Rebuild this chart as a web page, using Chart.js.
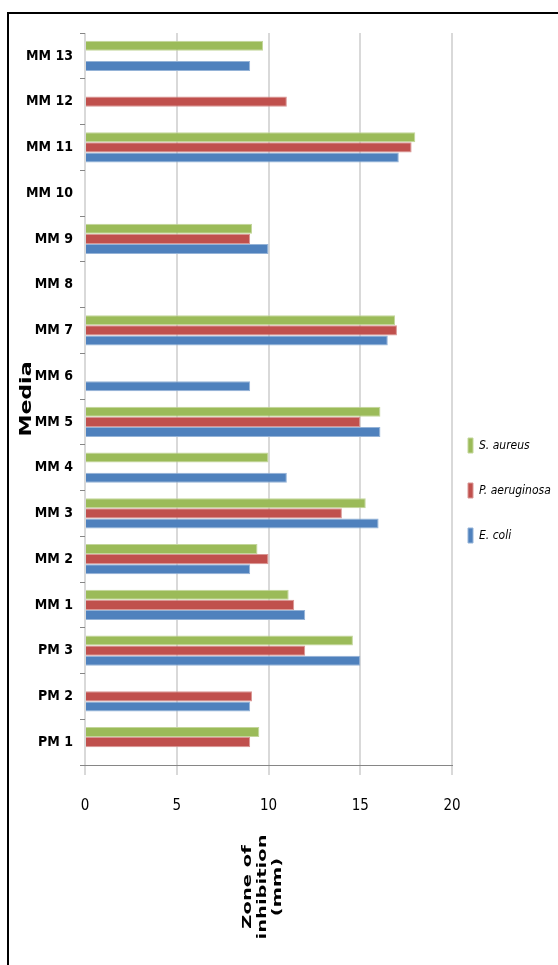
<!DOCTYPE html>
<html><head><meta charset="utf-8">
<script src="https://cdn.jsdelivr.net/npm/chart.js@4.4.0/dist/chart.umd.min.js"></script>
<style>
html,body{margin:0;padding:0;background:#fff;}
#wrap{position:relative;width:558px;height:965px;overflow:hidden;}
#frame{position:absolute;left:7px;top:12px;right:-4px;bottom:-4px;border-top:2px solid #000;border-left:2px solid #000;pointer-events:none;}
canvas{position:absolute;left:0;top:0;}
</style></head><body>
<div id="wrap"><canvas id="c" width="558" height="965"></canvas><div id="frame"></div></div>
<script>
// Categories listed top to bottom as in the picture
const categories = ['MM 13','MM 12','MM 11','MM 10','MM 9','MM 8','MM 7','MM 6','MM 5','MM 4','MM 3','MM 2','MM 1','PM 3','PM 2','PM 1'];
const seriesNames = ['S. aureus','P. aeruginosa','E. coli'];
const sAureus     = [9.7, null, 18.0, null, 9.1, null, 16.9, null, 16.1, 10.0, 15.3, 9.4, 11.1, 14.6, null, 9.5];
const pAeruginosa = [null, 11.0, 17.8, null, 9.0, null, 17.0, null, 15.0, null, 14.0, 10.0, 11.4, 12.0, 9.1, 9.0];
const eColi       = [9.0, null, 17.1, null, 10.0, null, 16.5, 9.0, 16.1, 11.0, 16.0, 9.0, 12.0, 15.0, 9.0, null];
const xTicks = [0, 5, 10, 15, 20];
const yTitle = 'Media';
const xTitleLines = ['Zone of', 'inhibition', '(mm)'];

const fillColors = ['#9BBB59', '#C0504D', '#4F81BD'];
const edgeColors = ['#c3d69b', '#d99694', '#95b3d7'];
const narrow = "'DejaVu Sans Condensed', 'Liberation Sans Narrow', sans-serif";

const seriesValues = [sAureus, pAeruginosa, eColi];

const titlePlugin = {
  id: 'rotTitles',
  afterDraw(chart) {
    const {ctx, chartArea} = chart;
    ctx.save();
    ctx.fillStyle = '#000';
    ctx.textAlign = 'center';
    ctx.textBaseline = 'middle';
    ctx.font = "bold 15px 'DejaVu Sans', sans-serif";
    ctx.translate(27.5, (chartArea.top + chartArea.bottom) / 2);
    ctx.rotate(-Math.PI / 2);
    ctx.scale(1.47, 1);
    ctx.fillText(yTitle, 0, 0);
    ctx.restore();

    ctx.save();
    ctx.fillStyle = '#000';
    ctx.textAlign = 'center';
    ctx.textBaseline = 'middle';
    ctx.font = "bold 13px 'DejaVu Sans', sans-serif";
    const cx = (chartArea.left + chartArea.right) / 2 - 6;
    ctx.translate(cx, chartArea.bottom + 122);
    ctx.rotate(-Math.PI / 2);
    ctx.scale(1.5, 1);
    xTitleLines.forEach((t, i) => ctx.fillText(t, 0, (i - 1) * 15));
    ctx.restore();
  }
};

const legendShift = {
  id: 'legendShift',
  afterLayout(chart) {
    const lg = chart.legend;
    if (!lg) return;
    lg.left = chart.chartArea.right - 14;
    lg.right = chart.width;
    const shift = 490.5 - (lg.top + lg.bottom) / 2;
    lg.top += shift; lg.bottom += shift;
  }
};

new Chart(document.getElementById('c'), {
  type: 'bar',
  data: {
    labels: categories,
    datasets: seriesNames.map((name, i) => ({
      label: name,
      data: seriesValues[i],
      backgroundColor: fillColors[i],
      borderColor: edgeColors[i],
      borderWidth: 1,
      categoryPercentage: 0.656,
      barPercentage: 1
    }))
  },
  options: {
    indexAxis: 'y',
    responsive: false,
    animation: false,
    devicePixelRatio: 1,
    layout: { padding: { left: 0, top: 33, right: 0, bottom: 150 } },
    scales: {
      x: {
        min: 0, max: 20,
        afterBuildTicks: (s) => { s.ticks = xTicks.map(v => ({ value: v })); },
        afterFit: (s) => { s.height = 50; },
        ticks: { padding: 22, color: '#000', maxRotation: 0, font: { family: narrow, size: 15 } },
        grid: { color: '#d9d9d9', lineWidth: 2, tickLength: 10, drawTicks: true },
        border: { display: true, color: '#868686', width: 1 }
      },
      y: {
        afterFit: (s) => { s.width = 85; },
        ticks: { padding: 7, color: '#000', font: { family: narrow, size: 14, weight: 'bold' } },
        grid: { drawOnChartArea: false, drawTicks: true, tickLength: 5, color: '#868686', offset: true },
        border: { display: false }
      }
    },
    plugins: {
      tooltip: { enabled: false },
      legend: {
        position: 'right',
        maxWidth: 106,
        labels: {
          boxWidth: 5, boxHeight: 15, padding: 30, color: '#000',
          font: { family: narrow, size: 12, style: 'italic' }
        }
      }
    }
  },
  plugins: [titlePlugin, legendShift]
});
</script>
</body></html>
